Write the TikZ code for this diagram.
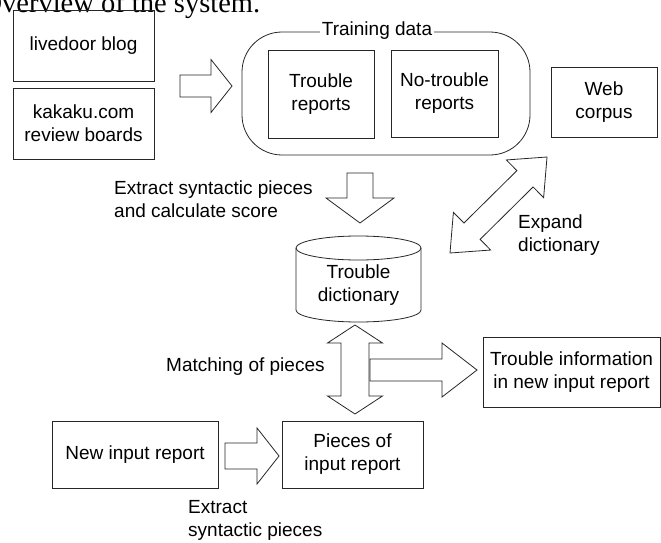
\documentclass[tikz,border=0pt]{standalone}
\usepackage{fontspec}
\setmainfont{Liberation Sans}
\newfontfamily\capfont{Liberation Serif}
\newcommand{\blockarrow}[6]{%
  \begin{scope}[shift={(#1)},rotate=#2]
    \draw[blk] (0,-#4) -- ({#3-#6},-#4) -- ({#3-#6},-#5) -- (#3,0) -- ({#3-#6},#5) -- ({#3-#6},#4) -- (0,#4) -- cycle;
  \end{scope}}
\newcommand{\dblockarrow}[6]{%
  \begin{scope}[shift={(#1)},rotate=#2]
    \draw[blk] (0,0) -- (#6,#5) -- (#6,#4) -- ({#3-#6},#4) -- ({#3-#6},#5) -- (#3,0) -- ({#3-#6},-#5) -- ({#3-#6},-#4) -- (#6,-#4) -- (#6,-#5) -- cycle;
  \end{scope}}
\begin{document}
\begin{tikzpicture}[x=1pt,y=-1pt,
  every node/.style={font=\fontsize{19}{23}\selectfont, text=black},
  box/.style={draw=black!85, line width=0.8pt, align=center, inner sep=0pt},
  blk/.style={draw=black!85, line width=0.8pt, line join=miter},
  lbl/.style={align=left, anchor=west, inner sep=0pt}]
\useasboundingbox (0,0) rectangle (661,543);
\clip (0,0) rectangle (661,543);
% caption (cut off)
\node[font=\capfont\fontsize{28.5}{30}\selectfont, anchor=base west, inner sep=0pt] (cap) at (-18.6,13) {Overview of the system.};
% sources
\node[box, minimum width=141, minimum height=71] (blog) at (83.5,45.5) {livedoor blog};
\node[box, minimum width=141, minimum height=71] (kakaku) at (83.5,123.5) {kakaku.com\\review boards};
% training data
\draw[blk, rounded corners=40] (242,32) rectangle (530,155);
\node[fill=white, inner xsep=2pt, inner ysep=0pt] (train) at (377,31) {Training data};
\node[box, minimum width=106, minimum height=88] (trep) at (321,94) {Trouble\\reports};
\node[box, minimum width=107, minimum height=87] (nrep) at (444.5,93.5) {No-trouble\\reports};
\node[box, minimum width=106, minimum height=70] (web) at (604,102) {Web\\corpus};
% dictionary cylinder
\draw[blk] (296,248) -- (296,310) arc[start angle=180, end angle=0, x radius=62.5, y radius=12] -- (421,248);
\draw[blk] (358.5,248) ellipse[x radius=62.5, y radius=12];
\node[align=center, inner sep=0pt] (dict) at (358.5,285) {Trouble\\dictionary};
% lower boxes
\node[box, minimum width=177, minimum height=70] (info) at (571.5,372) {Trouble information\\in new input report};
\node[box, minimum width=141, minimum height=67] (pieces) at (352.5,454.5) {Pieces of\\input report};
\node[box, minimum width=166, minimum height=67] (newrep) at (135,454.5) {New input report};
% labels
\node[lbl] (l1) at (114,199) {Extract syntactic pieces\\and calculate score};
\node[lbl] (l2) at (518,235) {Expand\\dictionary};
\node[lbl] (l3) at (166,367) {Matching of pieces};
\node[lbl] (l4) at (188,520) {Extract\\syntactic pieces};
% block arrows
\blockarrow{180,86}{0}{52}{11}{26.5}{21}
\blockarrow{360,173}{-90}{50}{13}{34}{25}
\dblockarrow{450,253}{44.7}{136.5}{11.5}{26.5}{31}
\dblockarrow{355,325}{-90}{89}{14}{27.5}{18}
\blockarrow{370,370}{0}{107}{11}{27}{35}
\blockarrow{225,456}{0}{54}{13}{28}{22}
\end{tikzpicture}
\end{document}
